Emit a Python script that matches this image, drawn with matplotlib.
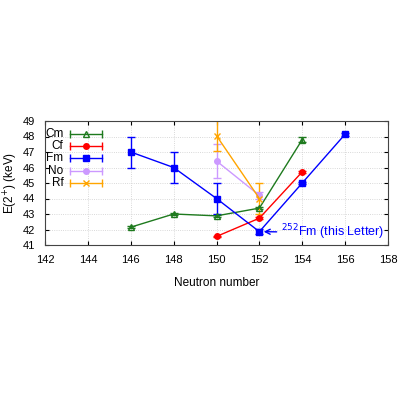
import matplotlib
matplotlib.use('Agg')
import matplotlib.pyplot as plt
from matplotlib.lines import Line2D

# neutron number, energy (keV), error
cm_n = [146, 148, 150, 152, 154]
cm_e = [42.15, 43.0, 42.88, 43.38, 47.8]
cm_err = [0.05, 0.05, 0.05, 0.05, 0.15]

cf_n = [150, 152, 154]
cf_e = [41.55, 42.73, 45.72]
cf_err = [0.05, 0.05, 0.05]

fm_n = [146, 148, 150, 152, 154, 156]
fm_e = [47.0, 46.0, 44.0, 41.86, 45.0, 48.15]
fm_err = [1.0, 1.0, 1.0, 0.15, 0.05, 0.1]

no_n = [150, 152]
no_e = [46.42, 44.2]
no_err = [1.1, 0.2]

rf_n = [150, 152]
rf_e = [48.05, 44.0]
rf_err = [1.0, 1.0]

plt.rcParams['font.family'] = ['Liberation Sans', 'DejaVu Sans']
plt.rcParams['font.size'] = 8.5

fig = plt.figure(figsize=(4, 4), dpi=100)
ax = fig.add_axes([0.1125, 0.3875, 0.8575, 0.31])

series = [
    ('Cm', cm_n, cm_e, cm_err, '#1e7a1e', '^', 'none', 4),
    ('Cf', cf_n, cf_e, cf_err, 'red', 'o', None, 4),
    ('Fm', fm_n, fm_e, fm_err, 'blue', 's', None, 4),
    ('No', no_n, no_e, no_err, '#cc99ff', 'o', None, 4),
    ('Rf', rf_n, rf_e, rf_err, 'orange', 'x', None, 5),
]

for name, n, e, err, col, mk, mfc, ms in series:
    ax.errorbar(n, e, yerr=err, color=col, marker=mk, ms=ms, mfc=mfc if mfc else col,
                lw=1, capsize=3, elinewidth=1, capthick=1)

# gnuplot-style key: label right-aligned, then a capped line with the marker
for i, (name, n, e, err, col, mk, mfc, ms) in enumerate(series):
    y = 0.899 - i * 0.1005
    ax.text(0.054, y, name, transform=ax.transAxes, ha='right', va='center', fontsize=8.5)
    ax.add_line(Line2D([0.073, 0.166], [y, y], transform=ax.transAxes, color=col, lw=1,
                       marker='|', ms=6, mew=1))
    ax.add_line(Line2D([0.1195], [y], transform=ax.transAxes, color=col, marker=mk, ms=ms,
                       mfc=mfc if mfc else col))

ax.annotate('$^{252}$Fm (this Letter)', xy=(152.2, 41.86), xytext=(153.0, 41.8),
            color='blue', fontsize=9, va='center',
            arrowprops=dict(arrowstyle='->', color='blue', lw=1, shrinkA=1, shrinkB=0))

ax.set_xlim(142, 158)
ax.set_ylim(41, 49)
ax.set_xticks(range(142, 159, 2))
ax.set_yticks(range(41, 50))
ax.grid(True, color='#cccccc', lw=0.6, ls=':')
ax.tick_params(direction='in', top=True, right=True, length=3, labelsize=8, pad=7)
for s in ax.spines.values():
    s.set_color('#444444')
ax.set_xlabel('Neutron number', labelpad=9)
ax.set_ylabel('E(2$^{+}$) (keV)', labelpad=2)

fig.savefig('out.png', dpi=100)
